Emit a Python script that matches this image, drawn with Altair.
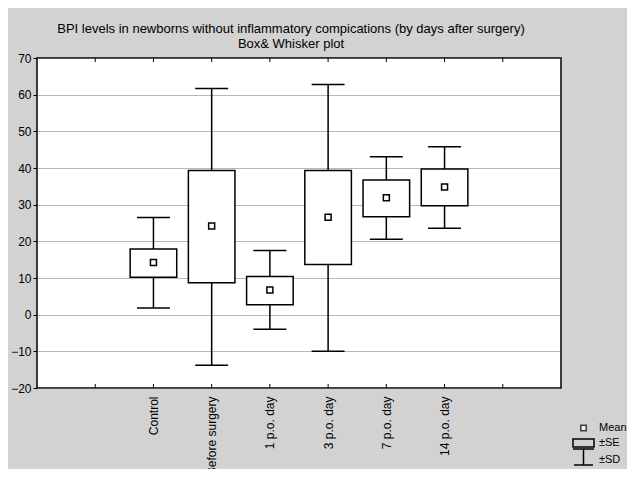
import altair as alt
import pandas as pd

# ---- data ----
categories = ["Control", "Before surgery", "1 p.o. day", "3 p.o. day", "7 p.o. day", "14 p.o. day"]
positions = [2, 3, 4, 5, 6, 7]
means = [14.2, 24.2, 6.7, 26.6, 31.9, 34.8]
se_low = [10.2, 8.7, 2.7, 13.7, 26.7, 29.7]
se_high = [17.9, 39.3, 10.4, 39.3, 36.7, 39.7]
sd_low = [1.8, -13.8, -4.0, -10.0, 20.6, 23.6]
sd_high = [26.5, 61.7, 17.5, 62.8, 43.1, 45.8]

x_ticks = [1, 2, 3, 4, 5, 6, 7, 8]
y_ticks = [-20, -10, 0, 10, 20, 30, 40, 50, 60, 70]
legend_labels = ["Mean", "±SE", "±SD"]

W, H = 524, 330
BOX_HALF = 0.4
CAP_HALF = 0.283

df = pd.DataFrame({
    "category": categories,
    "pos": positions,
    "mean": means,
    "se_low": se_low,
    "se_high": se_high,
    "sd_low": sd_low,
    "sd_high": sd_high,
})
ticks_df = pd.DataFrame({"pos": x_ticks})

# label lookup for the x axis (positions 0..9)
lab = [""] * 10
for p, c in zip(positions, categories):
    lab[p] = c
label_expr = "[" + ",".join("'" + s + "'" for s in lab) + "][datum.value]"

FONT = "Liberation Sans"

x_scale = alt.Scale(domain=[0, 9], nice=False, zero=False)
y_scale = alt.Scale(domain=[-20, 70], nice=False, zero=False)

x_axis = alt.Axis(values=x_ticks, labelExpr=label_expr, labelAngle=270, ticks=False,
                  domain=False, grid=False, title=None, labelPadding=8, labelFontSize=12,
                  labelFont=FONT, labelColor="black")
y_axis = alt.Axis(values=y_ticks, grid=True, gridColor="#6f6f6f", gridDash=[1, 1], gridWidth=1,
                  tickSize=4, tickColor="black", domain=False, title=None, labelFontSize=12,
                  labelFont=FONT, labelColor="black", labelPadding=2)

base = alt.Chart(df).transform_calculate(
    box_l=f"datum.pos - {BOX_HALF}", box_r=f"datum.pos + {BOX_HALF}",
    cap_l=f"datum.pos - {CAP_HALF}", cap_r=f"datum.pos + {CAP_HALF}",
)

whisker = base.mark_rule(color="black", strokeWidth=1.5).encode(
    x=alt.X("pos:Q", scale=x_scale, axis=x_axis),
    y=alt.Y("sd_low:Q", scale=y_scale, axis=y_axis),
    y2="sd_high:Q",
)
cap_hi = base.mark_rule(color="black", strokeWidth=1.5).encode(
    x=alt.X("cap_l:Q", scale=x_scale, axis=x_axis), x2="cap_r:Q",
    y=alt.Y("sd_high:Q", scale=y_scale, axis=y_axis),
)
cap_lo = base.mark_rule(color="black", strokeWidth=1.5).encode(
    x=alt.X("cap_l:Q", scale=x_scale, axis=x_axis), x2="cap_r:Q",
    y=alt.Y("sd_low:Q", scale=y_scale, axis=y_axis),
)
box = base.mark_rect(fill="white", stroke="black", strokeWidth=1.5).encode(
    x=alt.X("box_l:Q", scale=x_scale, axis=x_axis), x2="box_r:Q",
    y=alt.Y("se_low:Q", scale=y_scale, axis=y_axis), y2="se_high:Q",
)
mean_pts = base.mark_square(filled=True, fill="white", stroke="black", strokeWidth=1.5,
                            size=36, opacity=1).encode(
    x=alt.X("pos:Q", scale=x_scale, axis=x_axis),
    y=alt.Y("mean:Q", scale=y_scale, axis=y_axis),
)

top_ticks = alt.Chart(ticks_df).mark_rule(color="black", strokeWidth=1).encode(
    x=alt.X("pos:Q", scale=x_scale, axis=x_axis),
    y=alt.value(0), y2=alt.value(4),
)
bot_ticks = alt.Chart(ticks_df).mark_rule(color="black", strokeWidth=1).encode(
    x=alt.X("pos:Q", scale=x_scale, axis=x_axis),
    y=alt.value(H), y2=alt.value(H - 4),
)

# ---- legend (drawn in pixel space, to the lower right of the plot) ----
leg_src = alt.Chart(pd.DataFrame({"k": [0]}))
lg_mean = leg_src.mark_square(filled=True, fill="white", stroke="black", strokeWidth=1.5,
                              size=30).encode(x=alt.value(546.5), y=alt.value(370))
lg_se = leg_src.mark_rect(fill="transparent", stroke="black", strokeWidth=1.5).encode(
    x=alt.value(536), x2=alt.value(557), y=alt.value(381), y2=alt.value(389))
lg_sd_v = leg_src.mark_rule(color="black", strokeWidth=1.5).encode(
    x=alt.value(546.5), y=alt.value(391), y2=alt.value(407))
lg_sd_t = leg_src.mark_rule(color="black", strokeWidth=1.5).encode(
    x=alt.value(536), x2=alt.value(557), y=alt.value(391))
lg_sd_b = leg_src.mark_rule(color="black", strokeWidth=1.5).encode(
    x=alt.value(537), x2=alt.value(556), y=alt.value(407))
lg_texts = [
    leg_src.mark_text(text=t, align="left", baseline="middle", font=FONT, fontSize=11,
                      color="black").encode(x=alt.value(562), y=alt.value(yy))
    for t, yy in zip(legend_labels, [370, 385, 402])
]

chart = alt.layer(whisker, cap_hi, cap_lo, box, mean_pts, top_ticks, bot_ticks,
                  lg_mean, lg_se, lg_sd_v, lg_sd_t, lg_sd_b, *lg_texts).properties(
    width=W, height=H,
    autosize="none",
    padding={"left": 29, "top": 50, "right": 66, "bottom": 81},
    background="#d2d2d2",
    title=alt.Title(
        text="BPI levels in newborns without inflammatory compications (by days after surgery)",
        subtitle="Box& Whisker plot",
        fontSize=13, subtitleFontSize=13, font=FONT, subtitleFont=FONT,
        fontWeight="normal", color="black", subtitleColor="black",
        anchor="middle", offset=1, subtitlePadding=2, dx=-8,
    ),
).configure_view(fill="white", stroke="black", strokeWidth=1.5)

chart.save("out.html", embed_options={"renderer": "svg", "actions": False})
